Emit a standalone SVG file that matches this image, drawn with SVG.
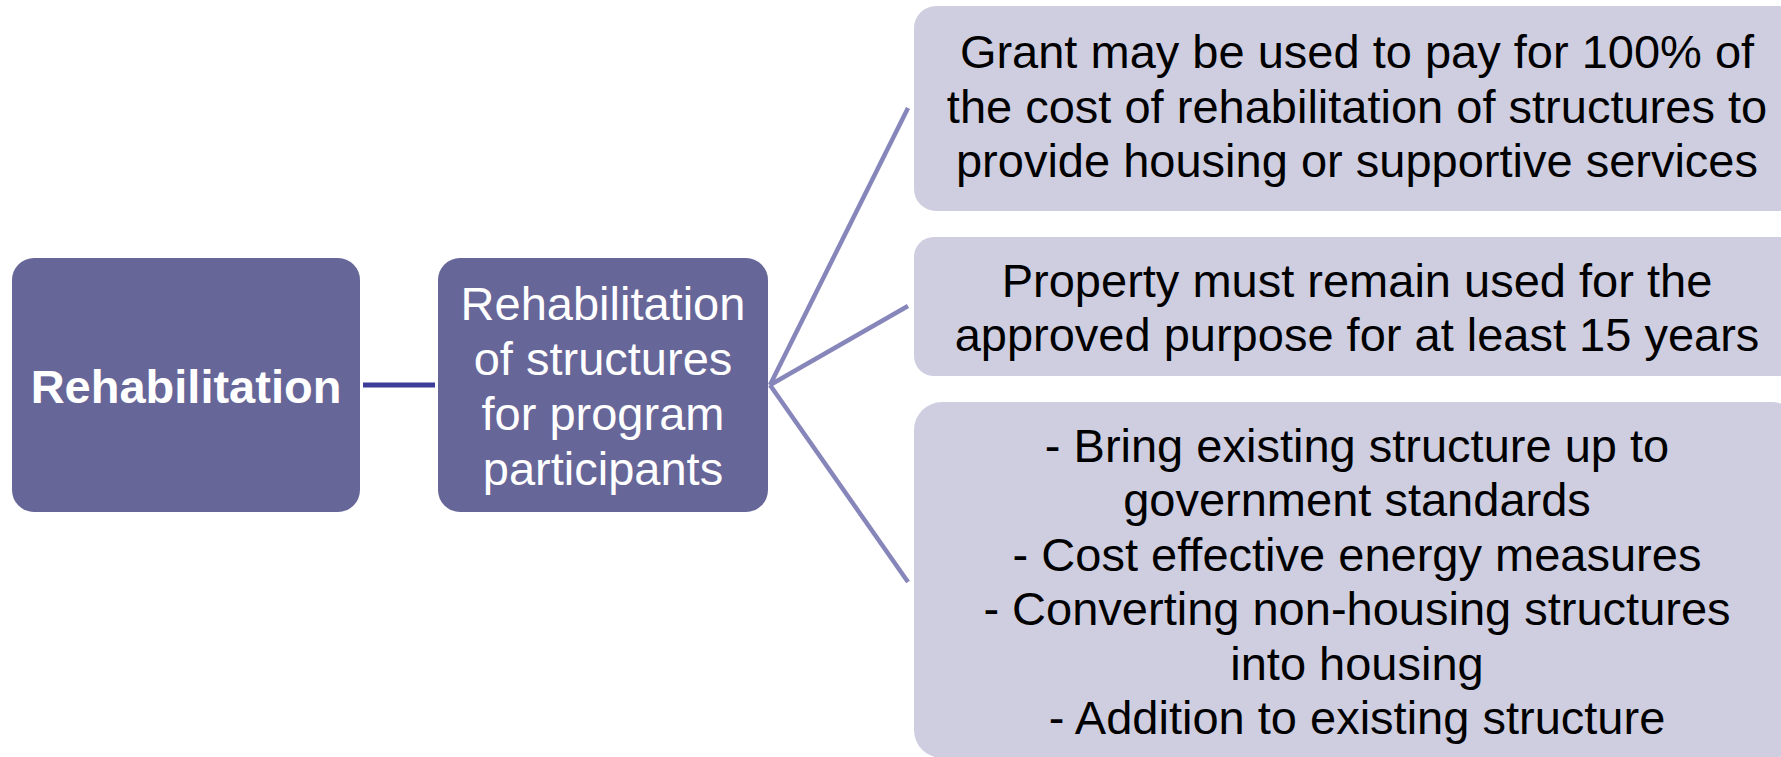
<svg xmlns="http://www.w3.org/2000/svg" width="1781" height="757" viewBox="0 0 1781 757">
  <style>
    .dark { fill: #676699; }
    .light { fill: #cecee0; }
    .t { font-family: "Liberation Sans", Arial, sans-serif; font-size: 47px; text-anchor: middle; }
    .tw { fill: #ffffff; }
    .tb { fill: #000000; }
    .link { stroke: #8786bb; stroke-width: 4.5; fill: none; }
    .stem { stroke: #3c3c99; stroke-width: 5; fill: none; }
  </style>
  <rect width="1781" height="757" fill="#ffffff"/>

  <!-- connectors -->
  <g id="connectors">
    <line class="stem" x1="363" y1="385" x2="435" y2="385"/>
    <line class="link" x1="770" y1="385" x2="908" y2="108"/>
    <line class="link" x1="770" y1="385" x2="908" y2="306"/>
    <line class="link" x1="770" y1="385" x2="908" y2="582"/>
  </g>

  <!-- root -->
  <g id="node-rehabilitation">
    <rect class="dark" x="12" y="258" width="348" height="254" rx="22"/>
    <text class="t tw" x="186" y="403" font-weight="bold">Rehabilitation</text>
  </g>

  <!-- middle -->
  <g id="node-structures">
    <rect class="dark" x="438" y="258" width="330" height="254" rx="22"/>
    <text class="t tw" x="603" y="320">Rehabilitation</text>
    <text class="t tw" x="603" y="375">of structures</text>
    <text class="t tw" x="603" y="430">for program</text>
    <text class="t tw" x="603" y="485">participants</text>
  </g>

  <!-- details -->
  <g id="node-grant">
    <rect class="light" x="914" y="6" width="886" height="205" rx="22"/>
    <text class="t tb" x="1357" y="68">Grant may be used to pay for 100% of</text>
    <text class="t tb" x="1357" y="123">the cost of rehabilitation of structures to</text>
    <text class="t tb" x="1357" y="177">provide housing or supportive services</text>
  </g>

  <g id="node-property">
    <rect class="light" x="914" y="237" width="886" height="139" rx="20"/>
    <text class="t tb" x="1357" y="297">Property must remain used for the</text>
    <text class="t tb" x="1357" y="351">approved purpose for at least 15 years</text>
  </g>

  <g id="node-uses">
    <rect class="light" x="914" y="402" width="886" height="356" rx="28"/>
    <text class="t tb" x="1357" y="462">- Bring existing structure up to</text>
    <text class="t tb" x="1357" y="516">government standards</text>
    <text class="t tb" x="1357" y="571">- Cost effective energy measures</text>
    <text class="t tb" x="1357" y="625">- Converting non-housing structures</text>
    <text class="t tb" x="1357" y="680">into housing</text>
    <text class="t tb" x="1357" y="734">- Addition to existing structure</text>
  </g>
</svg>
